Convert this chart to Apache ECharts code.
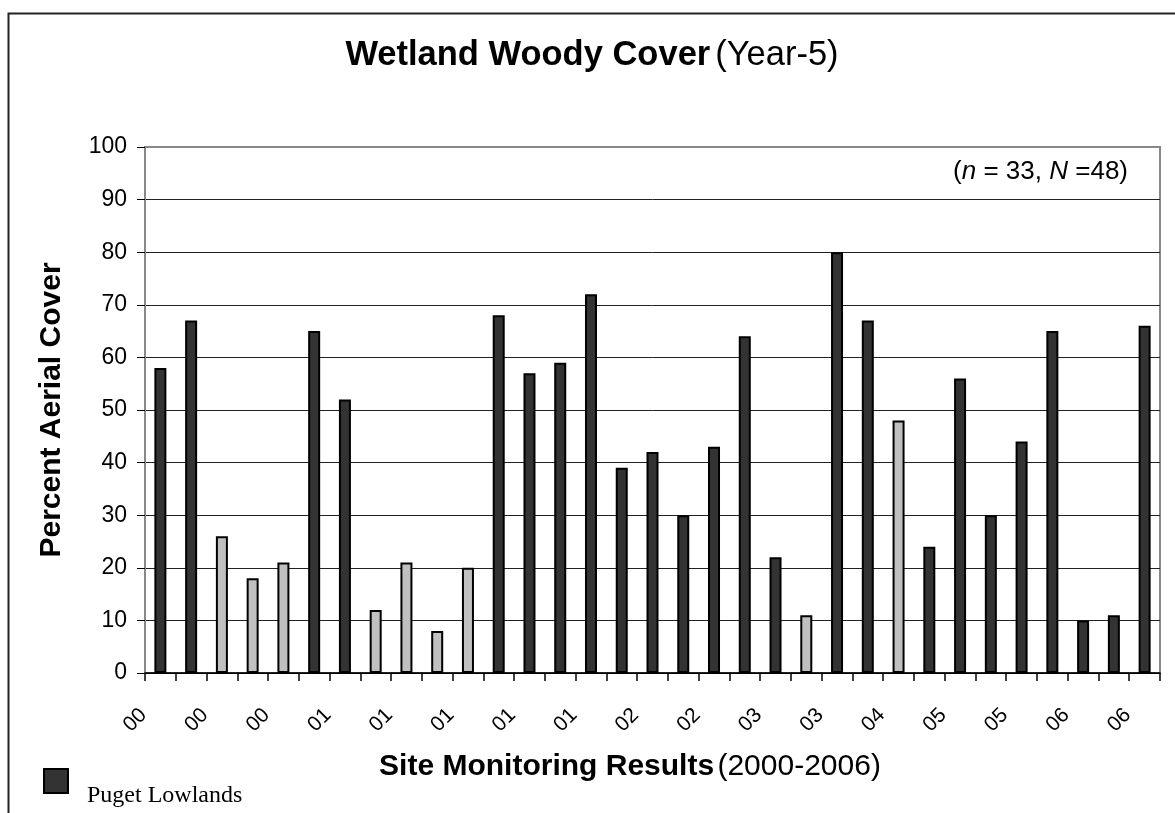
<!DOCTYPE html>
<html>
<head>
<meta charset="utf-8">
<script src="https://cdn.jsdelivr.net/npm/echarts@6/dist/echarts.min.js"></script>
<style>
html, body { margin: 0; padding: 0; background: #fff; }
#main { width: 1175px; height: 813px; }
</style>
</head>
<body>
<div id="main"></div>
<script>
// site year codes (one per site)
var years = ['00','00','00','00','00','01','01','01','01','01','01','01','01','01','01','02','02',
             '02','02','03','03','03','03','04','04','05','05','05','05','06','06','06','06'];
// percent aerial cover per site
var cover = [58, 67, 26, 18, 21, 65, 52, 12, 21, 8, 20, 68, 57, 59, 72, 39, 42,
             30, 43, 64, 22, 11, 80, 67, 48, 24, 56, 30, 44, 65, 10, 11, 66];
// 1 = Puget Lowlands (dark), 0 = other (light)
var puget = [1, 1, 0, 0, 0, 1, 1, 0, 0, 0, 0, 1, 1, 1, 1, 1, 1,
             1, 1, 1, 1, 0, 1, 1, 0, 1, 1, 1, 1, 1, 1, 1, 1];

var DARK = '#333333', LIGHT = '#c0c0c0';
var FONT = 'Liberation Sans, Arial, sans-serif';

var barData = [];
for (var i = 0; i < cover.length; i++) {
    barData.push({
        value: cover[i],
        itemStyle: { color: puget[i] ? DARK : LIGHT }
    });
}

var myChart = echarts.init(document.getElementById('main'));

var option = {
    animation: false,
    backgroundColor: '#fff',
    textStyle: { fontFamily: FONT, color: '#000' },
    title: {
        left: 587,
        top: 33,
        textAlign: 'center',
        text: '{b|Wetland Woody Cover} {n|(Year-5)}',
        textStyle: {
            rich: {
                b: { fontSize: 34.5, fontWeight: 'bold', color: '#000', fontFamily: FONT },
                n: { fontSize: 34.5, fontWeight: 'normal', color: '#000', fontFamily: FONT }
            }
        }
    },
    grid: {
        left: 145,
        right: 15,
        top: 147,
        bottom: 140,
        show: true,
        borderColor: '#888',
        borderWidth: 2,
        backgroundColor: 'transparent'
    },
    xAxis: {
        type: 'category',
        data: years,
        axisLine: { lineStyle: { color: '#000', width: 1.5 } },
        axisTick: { show: true, length: 8, interval: 0, lineStyle: { color: '#000', width: 1.5 } },
        axisLabel: {
            interval: 1,
            rotate: 45,
            margin: 22,
            formatter: '{a|{value}}',
            rich: {
                a: { fontSize: 21, color: '#000', fontFamily: FONT, padding: [0, 24, 0, 0] }
            }
        },
        splitLine: { show: false }
    },
    yAxis: {
        type: 'value',
        min: 0,
        max: 100,
        interval: 10,
        name: 'Percent Aerial Cover',
        nameLocation: 'middle',
        nameRotate: 90,
        nameGap: 78,
        nameTextStyle: { fontSize: 30, fontWeight: 'bold', color: '#000', fontFamily: FONT },
        axisLine: { show: true, lineStyle: { color: '#888', width: 2 } },
        axisTick: { show: true, length: 8, lineStyle: { color: '#000', width: 1 } },
        axisLabel: { fontSize: 23, color: '#000', margin: 18, fontFamily: FONT },
        splitLine: {
            show: true,
            lineStyle: {
                color: ['#000', '#222', '#222', '#222', '#222', '#222', '#222', '#222', '#222', '#222', '#888'],
                width: 1
            }
        }
    },
    series: [{
        name: 'Puget Lowlands',
        type: 'bar',
        barWidth: 12,
        data: barData,
        itemStyle: { borderColor: '#000', borderWidth: 2 }
    }],
    graphic: [
        // outer frame
        { type: 'rect', left: 6, top: 11, shape: { width: 1200, height: 900 },
          style: { fill: 'none', stroke: '#222', lineWidth: 2 }, silent: true },
        // n / N annotation
        { type: 'text',
          style: {
              x: 1128, y: 172, align: 'right', verticalAlign: 'middle',
              text: '({i|n} = 33, {i|N} =48)',
              fontSize: 26, fill: '#000', fontFamily: FONT,
              rich: { i: { fontStyle: 'italic', fontSize: 26, fontFamily: FONT } }
          } },
        // x axis title
        { type: 'text',
          style: {
              x: 630, y: 767, align: 'center', verticalAlign: 'middle',
              text: '{b|Site Monitoring Results} {n|(2000-2006)}',
              rich: {
                  b: { fontSize: 30, fontWeight: 'bold', fontFamily: FONT, fill: '#000' },
                  n: { fontSize: 30, fontFamily: FONT, fill: '#000' }
              }
          } },
        // legend key
        { type: 'rect', left: 43, top: 768, shape: { width: 24, height: 24 },
          style: { fill: DARK, stroke: '#000', lineWidth: 2 } },
        { type: 'text',
          style: { x: 87, y: 796, verticalAlign: 'middle', text: 'Puget Lowlands', fontSize: 24, fill: '#000',
                   fontFamily: 'Liberation Serif, Times New Roman, serif' } }
    ]
};

myChart.setOption(option);
</script>
</body>
</html>
